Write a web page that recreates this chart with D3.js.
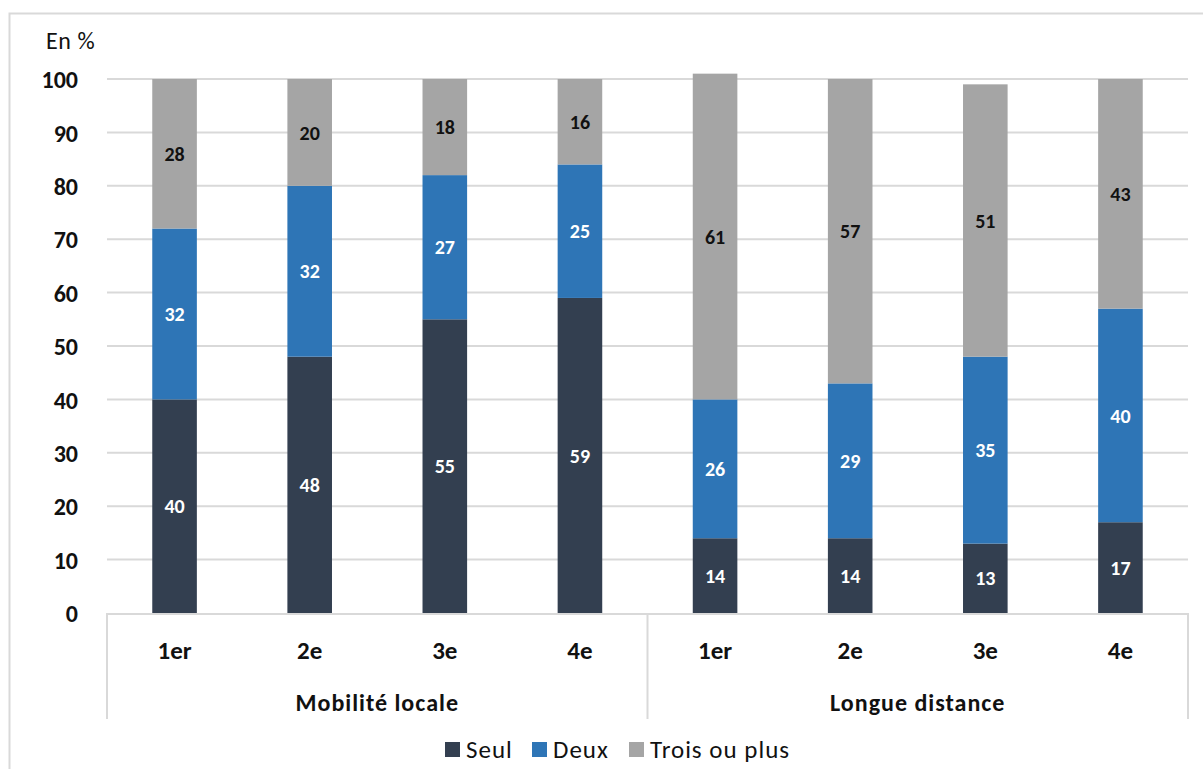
<!DOCTYPE html>
<html>
<head>
<meta charset="utf-8">
<script src="https://cdn.jsdelivr.net/npm/d3@7"></script>
<style>
  html, body { margin: 0; padding: 0; background: #fff; }
  svg text { font-family: "Carlito", "Lato", "Open Sans", sans-serif; }
</style>
</head>
<body>
<svg id="chart" width="1203" height="769"></svg>
<script>
// Ranks of the move, grouped by type of mobility
const groups = ["Mobilité locale", "Longue distance"];
const ranks = ["1er", "2e", "3e", "4e"];
const seriesNames = ["Seul", "Deux", "Trois ou plus"];
const seriesColors = ["#333f50", "#2e75b6", "#a5a5a5"];
const labelColors = ["#ffffff", "#ffffff", "#111111"];

// Shares (%) per series, in order: local 1er..4e, then long distance 1er..4e
const seul = [40, 48, 55, 59, 14, 14, 13, 17];
const deux = [32, 32, 27, 25, 26, 29, 35, 40];
const troisOuPlus = [28, 20, 18, 16, 61, 57, 51, 43];

const yTicks = [0, 10, 20, 30, 40, 50, 60, 70, 80, 90, 100];

const rows = [];
groups.forEach((g, gi) => ranks.forEach((r, ri) => {
  const i = gi * ranks.length + ri;
  rows.push({ key: g + "|" + r, group: g, rank: r, Seul: seul[i], Deux: deux[i], "Trois ou plus": troisOuPlus[i] });
}));

const svg = d3.select("#chart");
const margin = { left: 107, right: 1188, top: 79, bottom: 613 };

// Outer frame
svg.append("path")
  .attr("d", "M9.5,769 V13.5 H1203")
  .attr("fill", "none").attr("stroke", "#d9d9d9").attr("stroke-width", 2);

const x = d3.scaleBand().domain(rows.map(d => d.key))
  .range([margin.left, margin.right]).paddingInner(0.67).paddingOuter(0.335);
const y = d3.scaleLinear().domain([0, 100]).range([margin.bottom, margin.top]);

// Gridlines
svg.append("g").selectAll("line").data(yTicks.filter(t => t > 0)).join("line")
  .attr("x1", margin.left).attr("x2", margin.right)
  .attr("y1", d => y(d)).attr("y2", d => y(d))
  .attr("stroke", "#d9d9d9").attr("stroke-width", 2);

// Y axis labels
const yAxis = d3.axisLeft(y).tickValues(yTicks).tickSize(0).tickPadding(0);
const yg = svg.append("g").attr("transform", "translate(78,0)").call(yAxis);
yg.select(".domain").remove();
yg.selectAll("text").attr("font-size", 24).attr("font-weight", "bold").attr("fill", "#111")
  .attr("dy", "0.36em");

svg.append("text").attr("x", 46).attr("y", 49).attr("font-size", 24).attr("fill", "#111")
  .attr("letter-spacing", 0.6)
  .text("En %");

// Stacked bars
const stack = d3.stack().keys(seriesNames)(rows);
const layers = svg.append("g").selectAll("g").data(stack).join("g")
  .attr("fill", (d, i) => seriesColors[i]);
layers.selectAll("rect").data(d => d).join("rect")
  .attr("x", d => x(d.data.key))
  .attr("width", x.bandwidth())
  .attr("y", d => y(d[1]))
  .attr("height", d => y(d[0]) - y(d[1]));

// Value labels
stack.forEach((layer, li) => {
  svg.append("g").selectAll("text").data(layer).join("text")
    .attr("x", d => x(d.data.key) + x.bandwidth() / 2)
    .attr("y", d => (y(d[0]) + y(d[1])) / 2)
    .attr("dy", "0.36em")
    .attr("text-anchor", "middle")
    .attr("font-size", 20).attr("font-weight", "bold")
    .attr("fill", labelColors[li])
    .text(d => d.data[layer.key]);
});

// Category axis with group separators
svg.append("line").attr("x1", margin.left).attr("x2", margin.right)
  .attr("y1", margin.bottom + 1).attr("y2", margin.bottom + 1)
  .attr("stroke", "#d9d9d9").attr("stroke-width", 2);

const groupEdges = [rows[0].key, rows[ranks.length].key].map(k => x(k) - x.step() * x.paddingOuter())
  .concat([margin.right]);
svg.append("g").selectAll("line").data(groupEdges).join("line")
  .attr("x1", d => d).attr("x2", d => d)
  .attr("y1", margin.bottom).attr("y2", 719)
  .attr("stroke", "#d9d9d9").attr("stroke-width", 2);

svg.append("g").selectAll("text").data(rows).join("text")
  .attr("x", d => x(d.key) + x.bandwidth() / 2)
  .attr("y", 659)
  .attr("text-anchor", "middle")
  .attr("font-size", 25).attr("font-weight", "bold").attr("fill", "#111")
  .text(d => d.rank);

svg.append("g").selectAll("text").data(groups).join("text")
  .attr("x", (g, gi) => (groupEdges[gi] + groupEdges[gi + 1]) / 2)
  .attr("y", 711)
  .attr("text-anchor", "middle")
  .attr("font-size", 24).attr("font-weight", "bold").attr("fill", "#111")
  .attr("letter-spacing", 1)
  .text(d => d);

// Legend
const legendX = [445, 532, 629];
const legend = svg.append("g").selectAll("g").data(seriesNames).join("g")
  .attr("transform", (d, i) => `translate(${legendX[i]},742)`);
legend.append("rect").attr("width", 15).attr("height", 15)
  .attr("fill", (d, i) => seriesColors[i]);
legend.append("text").attr("x", 21).attr("y", 16)
  .attr("font-size", 25).attr("fill", "#111").attr("letter-spacing", 1)
  .text(d => d);
</script>
</body>
</html>
